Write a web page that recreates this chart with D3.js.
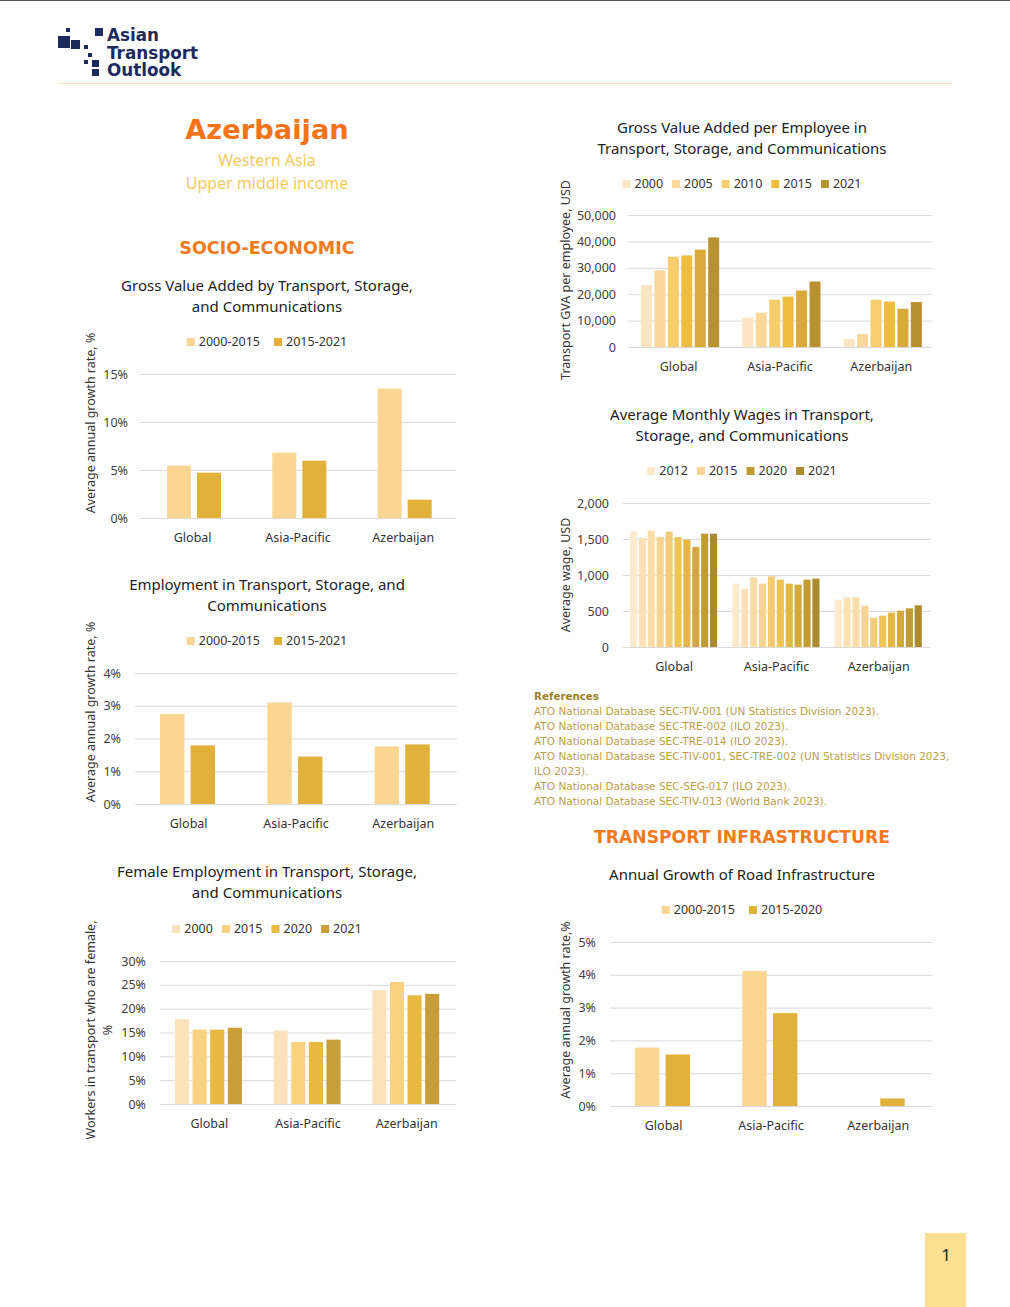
<!DOCTYPE html>
<html>
<head>
<meta charset="utf-8">
<script src="https://cdn.jsdelivr.net/npm/d3@7"></script>
<style>
  body { margin: 0; background: #fff; }
  svg text { font-family: "Noto Sans", "Open Sans", sans-serif; }
</style>
</head>
<body>
<div id="viz"></div>
<script>
// page size
var width = 1010;
var height = 1307;

// data
var categories = ["Global", "Asia-Pacific", "Azerbaijan"];

var gvaGrowth_2000_2015 = [5.45, 6.8, 13.47];
var gvaGrowth_2015_2021 = [4.72, 5.97, 1.91];

var empGrowth_2000_2015 = [2.75, 3.10, 1.76];
var empGrowth_2015_2021 = [1.79, 1.45, 1.82];

var femaleYears = ["2000", "2015", "2020", "2021"];
var female2000 = [17.8, 15.4, 23.9];
var female2015 = [15.6, 13.0, 25.6];
var female2020 = [15.6, 13.0, 22.8];
var female2021 = [16.0, 13.5, 23.1];

var gvaEmpYears = ["2000", "2005", "2010", "2015", "2020", "2021"];
var gvaEmpLegend = ["2000", "2005", "2010", "2015", "2021"];
var gvaEmpGlobal = [23500, 29000, 34200, 34700, 36900, 41500];
var gvaEmpAsia = [11100, 13000, 17900, 19100, 21400, 24800];
var gvaEmpAze = [3050, 4950, 17900, 17200, 14500, 17050];

var wageYears = ["2012", "2013", "2014", "2015", "2016", "2017", "2018", "2019", "2020", "2021"];
var wageLegend = ["2012", "2015", "2020", "2021"];
var wageGlobal = [1606, 1514, 1616, 1528, 1602, 1528, 1491, 1389, 1574, 1574];
var wageAsia = [880, 810, 968, 880, 981, 935, 880, 866, 935, 949];
var wageAze = [657, 690, 690, 574, 407, 435, 477, 505, 537, 579];

var roadGrowth_2000_2015 = [1.78, 4.12, null];
var roadGrowth_2015_2020 = [1.57, 2.83, 0.23];

var references = [
  "ATO National Database SEC-TIV-001 (UN Statistics Division 2023).",
  "ATO National Database SEC-TRE-002 (ILO 2023).",
  "ATO National Database SEC-TRE-014 (ILO 2023).",
  "ATO National Database SEC-TIV-001, SEC-TRE-002 (UN Statistics Division 2023,",
  "ILO 2023).",
  "ATO National Database SEC-SEG-017 (ILO 2023).",
  "ATO National Database SEC-TIV-013 (World Bank 2023)."
];

// colours
var cLight = "#fad692";
var cDark = "#e1b13b";
var sixCols = ["#fce5c2", "#fad79a", "#f8cd6c", "#eebd40", "#d9aa3a", "#b89230"];
var fourCols = ["#fbe2bb", "#f9d27f", "#e8b83f", "#c99e38"];
var tenCols = ["#fde9cc", "#fbe2b6", "#fadca8", "#f8d491", "#f5cc74", "#eec454", "#e4b845", "#d3a93c", "#c09b36", "#ab8a30"];

var svg = d3.select('#viz').append('svg')
  .attr('width', width)
  .attr('height', height);

// top border
svg.append('line').attr('x1', 0).attr('x2', width).attr('y1', 0.5).attr('y2', 0.5)
  .attr('stroke', '#555').attr('stroke-width', 1);

// logo
var logo = svg.append('g').attr('class', 'logo');
var navy = "#1c2b5e";
[[58, 36, 12, 12], [71, 40, 9, 9], [66, 28, 4, 4], [95, 28, 8, 8], [84, 45, 4, 4],
 [88, 53, 4, 4], [84, 60, 4, 4], [92, 60, 7, 7], [92, 69, 7, 7]].forEach(function (r) {
  logo.append('rect').attr('x', r[0]).attr('y', r[1]).attr('width', r[2]).attr('height', r[3]).attr('fill', navy);
});
logo.selectAll('text.logoTxt').data(["Asian", "Transport", "Outlook"]).enter().append('text')
  .attr('class', 'logoTxt')
  .attr('x', 107)
  .attr('y', function (d, i) { return 41 + i * 17.5; })
  .style('font-family', '"DejaVu Sans", sans-serif')
  .style('font-weight', 'bold')
  .style('font-size', '16.8px')
  .style('fill', navy)
  .text(function (d) { return d; });

svg.append('line').attr('x1', 58).attr('x2', 952).attr('y1', 83.5).attr('y2', 83.5)
  .attr('stroke', '#f8e6b8').attr('stroke-width', 1);

// country header
svg.append('text').attr('x', 267).attr('y', 139).attr('text-anchor', 'middle')
  .style('font-family', '"DejaVu Sans", sans-serif')
  .style('font-weight', 'bold').style('font-size', '27.3px').style('fill', '#f47318')
  .text("Azerbaijan");
svg.append('text').attr('x', 267).attr('y', 166).attr('text-anchor', 'middle')
  .style('font-size', '16px').style('fill', '#f3cb5a').text("Western Asia");
svg.append('text').attr('x', 267).attr('y', 189).attr('text-anchor', 'middle')
  .style('font-size', '16px').style('fill', '#f3cb5a').text("Upper middle income");

function sectionTitle(txt, x, y, size) {
  svg.append('text').attr('x', x).attr('y', y).attr('text-anchor', 'middle')
    .style('font-family', '"DejaVu Sans", sans-serif')
    .style('font-weight', 'bold').style('font-size', size).style('fill', '#f07a1c')
    .text(txt);
}
sectionTitle("SOCIO-ECONOMIC", 267, 254, '17.5px');
sectionTitle("TRANSPORT INFRASTRUCTURE", 742, 843, '17.2px');

// generic grouped bar chart
function barChart(cfg) {
  var g = svg.append('g').attr('class', 'chart');

  // title
  g.selectAll('text.ctitle').data(cfg.title).enter().append('text')
    .attr('class', 'ctitle')
    .attr('x', cfg.cx)
    .attr('y', function (d, i) { return cfg.titleY + i * 21; })
    .attr('text-anchor', 'middle')
    .style('font-size', '15px').style('fill', '#222')
    .text(function (d) { return d; });

  // legend
  var lg = g.append('g');
  var xx = 0;
  cfg.legend.forEach(function (l) {
    lg.append('rect').attr('x', xx).attr('y', cfg.legendY - 8).attr('width', 8).attr('height', 8).attr('fill', l.color);
    var t = lg.append('text').attr('x', xx + 12).attr('y', cfg.legendY)
      .style('font-size', '12.5px').style('fill', '#333').text(l.name);
    xx += 12 + t.node().getComputedTextLength() + cfg.legendGap;
  });
  xx -= cfg.legendGap;
  lg.attr('transform', 'translate(' + (cfg.cx - xx / 2) + ',0)');

  var y = d3.scaleLinear().domain([0, cfg.max]).range([cfg.yBase, cfg.yTop]);
  var x = d3.scaleBand().domain(categories).range([cfg.x0, cfg.x1]);
  var bw = x.bandwidth();
  var xi = d3.scaleBand().domain(d3.range(cfg.series.length))
    .range([bw * cfg.inner[0], bw * cfg.inner[1]]).paddingInner(cfg.pad);

  // grid + y axis
  var ax = g.append('g')
    .attr('transform', 'translate(' + cfg.x0 + ',0)')
    .call(d3.axisLeft(y).tickValues(cfg.ticks).tickFormat(cfg.fmt).tickSize(-(cfg.x1 - cfg.x0)).tickPadding(cfg.x0 - cfg.tickX));
  ax.select('.domain').remove();
  ax.selectAll('line').attr('stroke', '#d9d9d9');
  ax.selectAll('text').style('font-size', '12.5px').style('fill', '#404040')
    .style('font-family', '"Noto Sans", sans-serif');

  // bars
  cfg.series.forEach(function (s, si) {
    g.selectAll(null).data(s.values.map(function (v, i) { return { cat: categories[i], v: v }; }))
      .enter()
      .filter(function (d) { return d.v != null; })
      .append('rect')
      .attr('x', function (d) { return x(d.cat) + xi(si); })
      .attr('y', function (d) { return y(d.v); })
      .attr('width', xi.bandwidth())
      .attr('height', function (d) { return cfg.yBase - y(d.v); })
      .attr('fill', s.color);
  });

  // category labels
  g.selectAll('text.cat').data(categories).enter().append('text')
    .attr('class', 'cat')
    .attr('x', function (d) { return x(d) + bw / 2; })
    .attr('y', cfg.catY)
    .attr('text-anchor', 'middle')
    .style('font-size', '12.5px').style('fill', '#333')
    .text(function (d) { return d; });

  // y title
  cfg.yTitle.forEach(function (t, i) {
    g.append('text')
      .attr('transform', 'translate(' + (cfg.yTitleX + i * 17) + ',' + cfg.yTitleCY + ') rotate(-90)')
      .attr('text-anchor', 'middle')
      .style('font-size', '12.5px').style('fill', '#333')
      .text(t);
  });
}

var pct = function (d) { return d + "%"; };
var num = d3.format(",");

// 1. GVA growth
barChart({
  title: ["Gross Value Added by Transport, Storage,", "and Communications"],
  cx: 267, titleY: 291, legendY: 346, legendGap: 14,
  legend: [{ name: "2000-2015", color: cLight }, { name: "2015-2021", color: cDark }],
  x0: 140, x1: 456, yBase: 518, yTop: 374, max: 15, ticks: [0, 5, 10, 15], fmt: pct, tickX: 128,
  series: [{ values: gvaGrowth_2000_2015, color: cLight }, { values: gvaGrowth_2015_2021, color: cDark }],
  inner: [0.256, 0.769], pad: 0.2, catY: 542,
  yTitle: ["Average annual growth rate, %"], yTitleX: 95, yTitleCY: 423
});

// 2. Employment growth
barChart({
  title: ["Employment in Transport, Storage, and", "Communications"],
  cx: 267, titleY: 590, legendY: 645, legendGap: 14,
  legend: [{ name: "2000-2015", color: cLight }, { name: "2015-2021", color: cDark }],
  x0: 135, x1: 457, yBase: 804, yTop: 673, max: 4, ticks: [0, 1, 2, 3, 4], fmt: pct, tickX: 121,
  series: [{ values: empGrowth_2000_2015, color: cLight }, { values: empGrowth_2015_2021, color: cDark }],
  inner: [0.233, 0.746], pad: 0.2, catY: 828,
  yTitle: ["Average annual growth rate, %"], yTitleX: 95, yTitleCY: 712
});

// 3. Female employment
barChart({
  title: ["Female Employment in Transport, Storage,", "and Communications"],
  cx: 267, titleY: 877, legendY: 933, legendGap: 9,
  legend: femaleYears.map(function (d, i) { return { name: d, color: fourCols[i] }; }),
  x0: 160, x1: 456, yBase: 1104, yTop: 961, max: 30, ticks: [0, 5, 10, 15, 20, 25, 30], fmt: pct, tickX: 146,
  series: [female2000, female2015, female2020, female2021].map(function (v, i) { return { values: v, color: fourCols[i] }; }),
  inner: [0.152, 0.83], pad: 0.2, catY: 1128,
  yTitle: ["Workers in transport who are female,", "%"], yTitleX: 95, yTitleCY: 1030
});

// 4. GVA per employee
var gvaEmpSeries = gvaEmpYears.map(function (yr, i) {
  return { values: [gvaEmpGlobal[i], gvaEmpAsia[i], gvaEmpAze[i]], color: sixCols[i] };
});
barChart({
  title: ["Gross Value Added per Employee in", "Transport, Storage, and Communications"],
  cx: 742, titleY: 133, legendY: 188, legendGap: 9,
  legend: gvaEmpLegend.map(function (d) { return { name: d, color: sixCols[gvaEmpYears.indexOf(d)] }; }),
  x0: 628, x1: 932, yBase: 347, yTop: 215, max: 50000, ticks: [0, 10000, 20000, 30000, 40000, 50000], fmt: num, tickX: 616,
  series: gvaEmpSeries,
  inner: [0.128, 0.9], pad: 0.18, catY: 371,
  yTitle: ["Transport GVA per employee, USD"], yTitleX: 570, yTitleCY: 280
});

// 5. Wages
var wageSeries = wageYears.map(function (yr, i) {
  return { values: [wageGlobal[i], wageAsia[i], wageAze[i]], color: tenCols[i] };
});
barChart({
  title: ["Average Monthly Wages in Transport,", "Storage, and Communications"],
  cx: 742, titleY: 420, legendY: 475, legendGap: 9,
  legend: wageLegend.map(function (d) { return { name: d, color: tenCols[wageYears.indexOf(d)] }; }),
  x0: 623, x1: 930, yBase: 647, yTop: 503, max: 2000, ticks: [0, 500, 1000, 1500, 2000], fmt: num, tickX: 609,
  series: wageSeries,
  inner: [0.068, 0.92], pad: 0.2, catY: 671,
  yTitle: ["Average wage, USD"], yTitleX: 570, yTitleCY: 575
});

// 6. Road growth
barChart({
  title: ["Annual Growth of Road Infrastructure"],
  cx: 742, titleY: 880, legendY: 914, legendGap: 14,
  legend: [{ name: "2000-2015", color: cLight }, { name: "2015-2020", color: cDark }],
  x0: 610, x1: 932, yBase: 1106, yTop: 942, max: 5, ticks: [0, 1, 2, 3, 4, 5], fmt: pct, tickX: 596,
  series: [{ values: roadGrowth_2000_2015, color: cLight }, { values: roadGrowth_2015_2020, color: cDark }],
  inner: [0.233, 0.746], pad: 0.2, catY: 1130,
  yTitle: ["Average annual growth rate,%"], yTitleX: 570, yTitleCY: 1010
});

// references
var refs = svg.append('g').attr('class', 'refs');
refs.append('text').attr('x', 534).attr('y', 700)
  .style('font-family', '"DejaVu Sans", sans-serif')
  .style('font-weight', 'bold').style('font-size', '10.3px').style('fill', '#a0801f')
  .text("References");
refs.selectAll('text.ref').data(references).enter().append('text')
  .attr('class', 'ref')
  .attr('x', 534)
  .attr('y', function (d, i) { return 715 + i * 15; })
  .style('font-family', '"DejaVu Sans", sans-serif')
  .style('font-size', '10.5px').style('fill', '#bb9d45')
  .text(function (d) { return d; });

// page number box
svg.append('rect').attr('x', 925).attr('y', 1233).attr('width', 41).attr('height', 74).attr('fill', '#fde08f');
svg.append('text').attr('x', 946).attr('y', 1261).attr('text-anchor', 'middle')
  .style('font-size', '17px').style('fill', '#222').text("1");
</script>
</body>
</html>
